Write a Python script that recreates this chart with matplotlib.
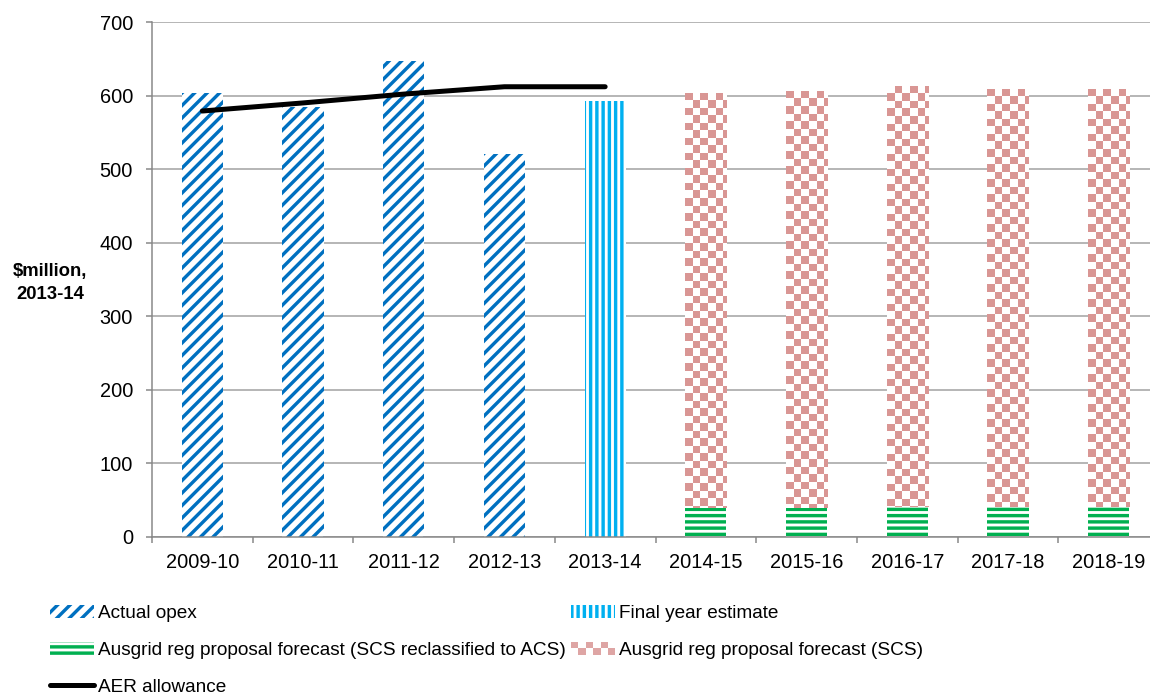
import numpy as np
import matplotlib
matplotlib.use('Agg')
import matplotlib.pyplot as plt
from matplotlib.patches import Patch, Rectangle
from matplotlib.lines import Line2D
from matplotlib.colors import ListedColormap
from matplotlib.legend_handler import HandlerBase

# ---------------- data ----------------
years = ['2009-10', '2010-11', '2011-12', '2012-13', '2013-14',
         '2014-15', '2015-16', '2016-17', '2017-18', '2018-19']
actual_years = ['2009-10', '2010-11', '2011-12', '2012-13']
actual_opex = [604, 584, 647, 521]
estimate_years = ['2013-14']
final_year_estimate = [592]
forecast_years = ['2014-15', '2015-16', '2016-17', '2017-18', '2018-19']
forecast_acs = [40, 40, 41, 41, 41]          # SCS reclassified to ACS
forecast_scs = [564, 566, 572, 568, 568]     # SCS
aer_years = ['2009-10', '2010-11', '2011-12', '2012-13', '2013-14']
aer_allowance = [579, 590, 602, 612, 612]
y_ticks = [0, 100, 200, 300, 400, 500, 600, 700]

labels = ['Actual opex',
          'Ausgrid reg proposal forecast (SCS reclassified to ACS)',
          'AER allowance',
          'Final year estimate',
          'Ausgrid reg proposal forecast (SCS)']

# ---------------- style ----------------
DPI = 75
PX = 72.0 / DPI          # points per pixel
BLUE = '#0070C0'
CYAN = '#00B0F0'
GREEN = '#00B050'
PINK = '#D99694'
GRID = '#A0A0A0'
SPINE = '#868686'
SQ = 7.5                 # checker square size, px
BAR_W = 0.41

plt.rcParams['font.family'] = ['Liberation Sans', 'DejaVu Sans']
plt.rcParams['hatch.linewidth'] = 3.4 * PX

fig = plt.figure(figsize=(1150 / DPI, 700 / DPI), dpi=DPI)
ax = fig.add_axes([152 / 1150, 163 / 700, 1007 / 1150, 515 / 700])
ax.set_xlim(-0.5, len(years) - 0.5)
ax.set_ylim(y_ticks[0], y_ticks[-1])

pos = {y: i for i, y in enumerate(years)}
def xs(ys):
    return [pos[y] for y in ys]

ax.bar(xs(actual_years), actual_opex, width=BAR_W, color='white',
       edgecolor=BLUE, linewidth=0, hatch='//', zorder=2)
ax.bar(xs(estimate_years), final_year_estimate, width=BAR_W, color='white',
       edgecolor=CYAN, linewidth=0, hatch='||', zorder=2)
ax.bar(xs(forecast_years), forecast_acs, width=BAR_W, color='white',
       edgecolor=GREEN, linewidth=0, hatch='--', zorder=2)
scs_bars = ax.bar(xs(forecast_years), forecast_scs, bottom=forecast_acs,
                  width=BAR_W, color='white', linewidth=0, zorder=2)

checker_cmap = ListedColormap(['white', PINK])
def add_checker(rect):
    x0, y0 = rect.get_x(), rect.get_y()
    w, h = rect.get_width(), rect.get_height()
    p0 = ax.transData.transform((x0, y0))
    p1 = ax.transData.transform((x0 + w, y0 + h))
    wpx, hpx = p1[0] - p0[0], p1[1] - p0[1]
    ncols = int(np.ceil(wpx / SQ))
    nrows = int(np.ceil(hpx / SQ))
    dx = w * SQ / wpx
    dy = h * SQ / hpx
    grid = np.add.outer(np.arange(nrows), np.arange(ncols)) % 2
    im = ax.imshow(grid[::-1], cmap=checker_cmap, vmin=0, vmax=1,
                   extent=(x0, x0 + ncols * dx, y0 + h - nrows * dy, y0 + h),
                   origin='upper', aspect='auto', interpolation='nearest',
                   zorder=2.5)
    im.set_clip_path(rect)

for r in scs_bars:
    add_checker(r)

ax.plot(xs(aer_years), aer_allowance, color='black', lw=5 * PX,
        solid_capstyle='round', zorder=3)

ax.set_xlim(-0.5, len(years) - 0.5)
ax.set_ylim(y_ticks[0], y_ticks[-1])
ax.set_aspect('auto')

# ---------------- axes styling ----------------
ax.set_yticks(y_ticks)
ax.set_xticks(range(len(years)))
ax.set_xticklabels(years)
ax.set_xticks(np.arange(-0.5, len(years), 1.0), minor=True)
ax.tick_params(axis='y', length=6 * PX, width=1.5 * PX, color=SPINE,
               pad=13 * PX, labelsize=20 * PX, labelcolor='black')
ax.tick_params(axis='x', which='major', length=0, pad=16 * PX,
               labelsize=20 * PX, labelcolor='black')
ax.tick_params(axis='x', which='minor', length=6 * PX, width=1.5 * PX,
               color=SPINE)
for s in ['top', 'right']:
    ax.spines[s].set_visible(False)
for s in ['left', 'bottom']:
    ax.spines[s].set_color(SPINE)
    ax.spines[s].set_linewidth(1.5 * PX)
ax.yaxis.grid(True, color=GRID, lw=1.5 * PX)
ax.set_axisbelow(True)

fig.text(50 / 1150, 1 - 283 / 700, '$million,\n2013-14', ha='center',
         va='center', fontweight='bold', fontsize=18.5 * PX, linespacing=1.45,
         multialignment='center')

# ---------------- legend ----------------
class HandlerChecker(HandlerBase):
    def create_artists(self, legend, orig_handle, xdescent, ydescent,
                       width, height, fontsize, trans):
        sq = SQ * PX
        ncols = int(np.ceil(width / sq))
        sh = height / 2.0
        arts = []
        for i in range(2):
            for j in range(ncols):
                if (i + j) % 2 == 1:
                    continue
                wj = min(sq, width - j * sq)
                arts.append(Rectangle((-xdescent + j * sq, -ydescent + (1 - i) * sh),
                                      wj, sh, facecolor=PINK, edgecolor='none',
                                      alpha=0.85, transform=trans))
        return arts

h_actual = Patch(facecolor='white', edgecolor=BLUE, linewidth=0, hatch='//')
h_acs = Patch(facecolor='white', edgecolor=GREEN, linewidth=0, hatch='--')
h_aer = Line2D([], [], color='black', lw=5 * PX, solid_capstyle='round')
h_est = Patch(facecolor='white', edgecolor=CYAN, linewidth=0, hatch='||')
h_scs = Patch(facecolor=PINK)

fig.legend(handles=[h_actual, h_acs, h_aer, h_est, h_scs], labels=labels,
           handler_map={h_scs: HandlerChecker()},
           loc='upper left', bbox_to_anchor=(50 / 1150, 1 - 605 / 700),
           ncol=2, frameon=False, fontsize=19 * PX, handlelength=2.3,
           handleheight=0.65, handletextpad=0.25, columnspacing=0.25,
           labelspacing=1.05, borderpad=0, borderaxespad=0)

fig.savefig('out.png', dpi=DPI)
